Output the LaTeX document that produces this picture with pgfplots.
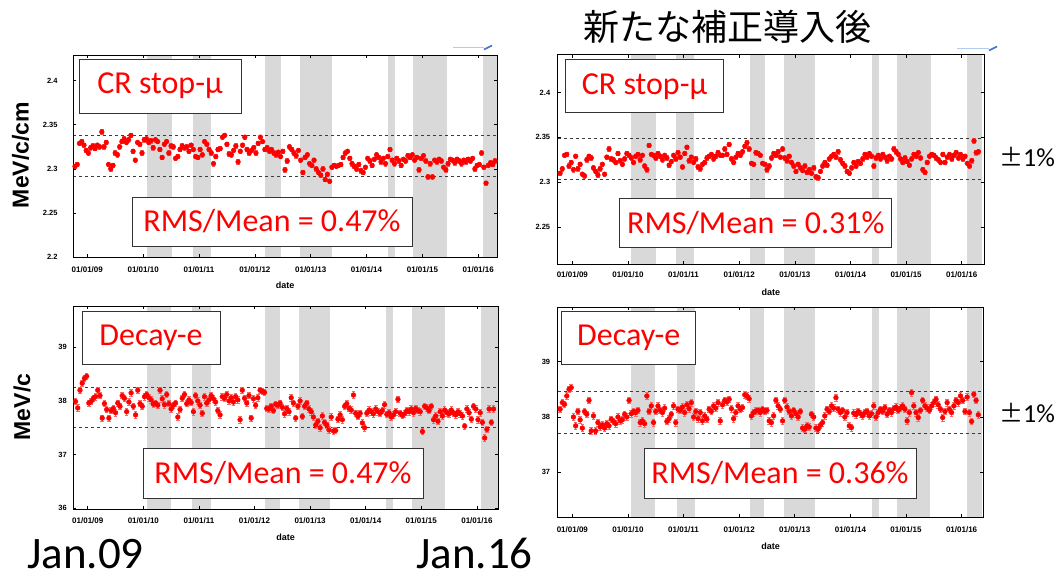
\documentclass[border=0pt]{standalone}
\usepackage{pgfplots}
\pgfplotsset{compat=1.18}
\usepackage{pgfplotstable}
\usepackage{fontspec}
\setmainfont{Liberation Sans}
\newfontfamily\calibri{Carlito}
\newfontfamily\cjk{Noto Sans CJK JP}

\definecolor{band}{RGB}{217,217,217}
\definecolor{ptred}{RGB}{255,0,0}
\definecolor{errred}{RGB}{246,105,105}
\definecolor{dashc}{RGB}{60,60,60}
\definecolor{lblue}{RGB}{175,205,238}
\definecolor{dblue}{RGB}{70,120,200}

\tikzset{
  redbox/.style={draw=black!80, line width=0.8pt, fill=white, text=ptred, inner sep=0pt, font=\calibri\fontsize{32}{38}\selectfont},
  dline/.style={dashc, line width=0.7pt, dash pattern=on 3pt off 3pt},
}
\pgfplotsset{
  panel/.style={
    scale only axis, axis on top, anchor=south west,
    tick align=inside, tick pos=both,
    major tick length=3pt,
    axis line style={line width=0.8pt, black},
    every tick/.style={black, line width=0.6pt},
    xtick={2009,2010,2011,2012,2013,2014,2015,2016},
    xticklabels={01/01/09,01/01/10,01/01/11,01/01/12,01/01/13,01/01/14,01/01/15,01/01/16},
    xticklabel style={font=\bfseries\fontsize{8}{9}\selectfont, anchor=center},
    yticklabel style={font=\bfseries\fontsize{7.5}{9}\selectfont, anchor=east},
    /pgf/number format/assume math mode=true,
    xlabel={date},
    xlabel style={font=\bfseries\fontsize{9}{10}\selectfont, at={(axis description cs:0.5,0)}, anchor=center},
  },
  pts/.style={only marks, mark=*, mark size=2.4pt, color=ptred,
    error bars/.cd, y dir=both, y fixed=#1,
    error bar style={line width=0.7pt, errred},
    error mark options={rotate=90, mark size=1.8pt, line width=0.7pt, errred}},
}

\pgfplotstableread{
x y
2008.78 2.303
2008.82 2.305
2008.86 2.329
2008.90 2.331
2008.94 2.327
2008.98 2.321
2009.02 2.318
2009.06 2.324
2009.10 2.326
2009.14 2.323
2009.18 2.327
2009.22 2.325
2009.26 2.342
2009.30 2.325
2009.34 2.330
2009.38 2.305
2009.42 2.300
2009.46 2.304
2009.50 2.318
2009.54 2.316
2009.58 2.325
2009.62 2.331
2009.66 2.334
2009.70 2.330
2009.74 2.333
2009.78 2.338
2009.82 2.320
2009.86 2.310
2009.90 2.330
2009.94 2.328
2009.98 2.318
2010.02 2.333
2010.06 2.334
2010.10 2.330
2010.14 2.332
2010.18 2.324
2010.22 2.333
2010.26 2.331
2010.30 2.322
2010.34 2.313
2010.38 2.328
2010.42 2.331
2010.46 2.318
2010.50 2.326
2010.54 2.325
2010.58 2.312
2010.62 2.314
2010.66 2.322
2010.70 2.326
2010.74 2.324
2010.78 2.325
2010.82 2.320
2010.86 2.327
2010.90 2.322
2010.94 2.314
2010.98 2.313
2011.02 2.322
2011.06 2.316
2011.10 2.331
2011.14 2.328
2011.18 2.322
2011.22 2.318
2011.26 2.306
2011.30 2.314
2011.34 2.322
2011.38 2.323
2011.42 2.336
2011.46 2.338
2011.50 2.328
2011.54 2.317
2011.58 2.316
2011.62 2.321
2011.66 2.326
2011.70 2.308
2011.74 2.320
2011.78 2.327
2011.82 2.336
2011.86 2.322
2011.90 2.318
2011.94 2.321
2011.98 2.324
2012.02 2.318
2012.06 2.329
2012.10 2.336
2012.14 2.331
2012.18 2.322
2012.22 2.324
2012.26 2.320
2012.30 2.322
2012.34 2.318
2012.38 2.316
2012.42 2.319
2012.46 2.314
2012.50 2.320
2012.54 2.299
2012.58 2.309
2012.62 2.325
2012.66 2.322
2012.70 2.318
2012.74 2.315
2012.78 2.321
2012.82 2.310
2012.86 2.296
2012.90 2.313
2012.94 2.316
2012.98 2.306
2013.02 2.304
2013.06 2.310
2013.10 2.300
2013.14 2.296
2013.18 2.293
2013.22 2.300
2013.26 2.288
2013.30 2.294
2013.34 2.286
2013.38 2.302
2013.42 2.304
2013.46 2.303
2013.50 2.304
2013.54 2.305
2013.58 2.313
2013.62 2.318
2013.66 2.320
2013.70 2.312
2013.74 2.306
2013.78 2.303
2013.82 2.300
2013.86 2.305
2013.90 2.298
2013.94 2.296
2013.98 2.302
2014.02 2.312
2014.06 2.309
2014.10 2.304
2014.14 2.311
2014.18 2.316
2014.22 2.313
2014.26 2.308
2014.30 2.312
2014.34 2.306
2014.38 2.314
2014.42 2.322
2014.46 2.310
2014.50 2.306
2014.54 2.312
2014.58 2.309
2014.62 2.304
2014.66 2.311
2014.70 2.309
2014.74 2.315
2014.78 2.313
2014.82 2.316
2014.86 2.310
2014.90 2.313
2014.94 2.299
2014.98 2.312
2015.02 2.315
2015.06 2.309
2015.10 2.291
2015.14 2.306
2015.18 2.291
2015.22 2.310
2015.26 2.308
2015.30 2.311
2015.34 2.309
2015.38 2.302
2015.42 2.299
2015.46 2.306
2015.50 2.311
2015.54 2.310
2015.58 2.307
2015.62 2.311
2015.66 2.309
2015.70 2.306
2015.74 2.310
2015.78 2.308
2015.82 2.311
2015.86 2.309
2015.90 2.312
2015.94 2.300
2015.98 2.304
2016.02 2.305
2016.06 2.318
2016.10 2.302
2016.14 2.284
2016.18 2.304
2016.22 2.307
2016.26 2.305
2016.30 2.309
}\tA

\pgfplotstableread{
x y
2008.78 2.310
2008.82 2.315
2008.86 2.330
2008.90 2.331
2008.94 2.318
2008.98 2.322
2009.02 2.314
2009.06 2.329
2009.10 2.315
2009.14 2.320
2009.18 2.309
2009.22 2.307
2009.26 2.325
2009.30 2.329
2009.34 2.327
2009.38 2.316
2009.42 2.312
2009.46 2.308
2009.50 2.315
2009.54 2.320
2009.58 2.309
2009.62 2.328
2009.66 2.337
2009.70 2.326
2009.74 2.325
2009.78 2.322
2009.82 2.332
2009.86 2.324
2009.90 2.320
2009.94 2.326
2009.98 2.332
2010.02 2.330
2010.06 2.327
2010.10 2.322
2010.14 2.329
2010.18 2.331
2010.22 2.325
2010.26 2.330
2010.30 2.318
2010.34 2.314
2010.38 2.341
2010.42 2.331
2010.46 2.330
2010.50 2.327
2010.54 2.332
2010.58 2.329
2010.62 2.325
2010.66 2.330
2010.70 2.327
2010.74 2.319
2010.78 2.323
2010.82 2.330
2010.86 2.326
2010.90 2.333
2010.94 2.328
2010.98 2.317
2011.02 2.332
2011.06 2.339
2011.10 2.324
2011.14 2.328
2011.18 2.322
2011.22 2.326
2011.26 2.317
2011.30 2.315
2011.34 2.320
2011.38 2.322
2011.42 2.327
2011.46 2.329
2011.50 2.331
2011.54 2.326
2011.58 2.329
2011.62 2.333
2011.66 2.330
2011.70 2.330
2011.74 2.337
2011.78 2.331
2011.82 2.342
2011.86 2.326
2011.90 2.322
2011.94 2.328
2011.98 2.332
2012.02 2.330
2012.06 2.334
2012.10 2.340
2012.14 2.344
2012.18 2.337
2012.22 2.321
2012.26 2.320
2012.30 2.333
2012.34 2.332
2012.38 2.330
2012.42 2.321
2012.46 2.320
2012.50 2.314
2012.54 2.318
2012.58 2.327
2012.62 2.332
2012.66 2.330
2012.70 2.334
2012.74 2.328
2012.78 2.337
2012.82 2.327
2012.86 2.324
2012.90 2.329
2012.94 2.322
2012.98 2.318
2013.02 2.312
2013.06 2.320
2013.10 2.316
2013.14 2.313
2013.18 2.318
2013.22 2.311
2013.26 2.314
2013.30 2.310
2013.34 2.316
2013.38 2.306
2013.42 2.305
2013.46 2.312
2013.50 2.318
2013.54 2.322
2013.58 2.319
2013.62 2.326
2013.66 2.329
2013.70 2.331
2013.74 2.328
2013.78 2.334
2013.82 2.325
2013.86 2.321
2013.90 2.318
2013.94 2.312
2013.98 2.310
2014.02 2.316
2014.06 2.322
2014.10 2.318
2014.14 2.323
2014.18 2.321
2014.22 2.326
2014.26 2.331
2014.30 2.328
2014.34 2.332
2014.38 2.329
2014.42 2.318
2014.46 2.327
2014.50 2.330
2014.54 2.326
2014.58 2.331
2014.62 2.328
2014.66 2.324
2014.70 2.329
2014.74 2.326
2014.78 2.337
2014.82 2.334
2014.86 2.331
2014.90 2.326
2014.94 2.322
2014.98 2.327
2015.02 2.323
2015.06 2.319
2015.10 2.326
2015.14 2.331
2015.18 2.329
2015.22 2.333
2015.26 2.327
2015.30 2.314
2015.34 2.311
2015.38 2.322
2015.42 2.329
2015.46 2.331
2015.50 2.330
2015.54 2.327
2015.58 2.325
2015.62 2.322
2015.66 2.331
2015.70 2.322
2015.74 2.328
2015.78 2.331
2015.82 2.326
2015.86 2.330
2015.90 2.333
2015.94 2.327
2015.98 2.331
2016.02 2.326
2016.06 2.329
2016.10 2.321
2016.14 2.318
2016.18 2.324
2016.22 2.346
2016.26 2.333
2016.30 2.334
}\tB

\pgfplotstableread{
x y
2008.78 37.99
2008.82 37.87
2008.86 38.20
2008.90 38.33
2008.94 38.42
2008.98 38.46
2009.02 37.96
2009.06 37.99
2009.10 38.05
2009.14 38.08
2009.18 38.20
2009.22 38.10
2009.26 37.68
2009.30 37.95
2009.34 37.84
2009.38 37.68
2009.42 37.82
2009.46 37.86
2009.50 37.78
2009.54 37.96
2009.58 37.90
2009.62 38.10
2009.66 38.05
2009.70 37.80
2009.74 37.98
2009.78 38.15
2009.82 37.90
2009.86 37.74
2009.90 38.20
2009.94 37.95
2009.98 37.90
2010.02 38.08
2010.06 38.12
2010.10 38.06
2010.14 38.02
2010.18 37.94
2010.22 37.96
2010.26 37.92
2010.30 38.20
2010.34 38.04
2010.38 37.93
2010.42 38.12
2010.46 37.95
2010.50 37.85
2010.54 37.92
2010.58 37.96
2010.62 37.70
2010.66 37.84
2010.70 38.05
2010.74 38.12
2010.78 37.95
2010.82 38.02
2010.86 37.97
2010.90 37.80
2010.94 38.10
2010.98 38.00
2011.02 37.92
2011.06 37.77
2011.10 38.08
2011.14 37.96
2011.18 38.02
2011.22 38.10
2011.26 38.04
2011.30 37.98
2011.34 37.82
2011.38 37.74
2011.42 38.08
2011.46 38.05
2011.50 38.12
2011.54 38.00
2011.58 38.06
2011.62 37.98
2011.66 38.08
2011.70 38.02
2011.74 37.65
2011.78 38.20
2011.82 38.05
2011.86 37.96
2011.90 38.10
2011.94 37.68
2011.98 38.04
2012.02 37.92
2012.06 38.06
2012.10 38.20
2012.14 38.18
2012.18 38.16
2012.22 37.86
2012.26 37.85
2012.30 37.90
2012.34 37.82
2012.38 37.94
2012.42 37.92
2012.46 37.96
2012.50 37.88
2012.54 37.76
2012.58 37.86
2012.62 37.80
2012.66 38.06
2012.70 37.96
2012.74 37.68
2012.78 37.90
2012.82 38.00
2012.86 37.71
2012.90 37.90
2012.94 37.96
2012.98 37.85
2013.02 37.80
2013.06 37.70
2013.10 37.55
2013.14 37.62
2013.18 37.50
2013.22 37.72
2013.26 37.60
2013.30 37.55
2013.34 37.46
2013.38 37.70
2013.42 37.44
2013.46 37.45
2013.50 37.66
2013.54 37.74
2013.58 37.65
2013.62 37.90
2013.66 37.95
2013.70 37.86
2013.74 37.83
2013.78 38.11
2013.82 37.77
2013.86 37.71
2013.90 37.77
2013.94 37.59
2013.98 37.50
2014.02 37.77
2014.06 37.83
2014.10 37.80
2014.14 37.76
2014.18 37.85
2014.22 37.80
2014.26 37.77
2014.30 37.82
2014.34 37.93
2014.38 37.75
2014.42 37.78
2014.46 37.70
2014.50 37.74
2014.54 37.80
2014.58 38.03
2014.62 37.77
2014.66 37.73
2014.70 37.76
2014.74 37.82
2014.78 37.80
2014.82 37.85
2014.86 37.78
2014.90 37.86
2014.94 37.82
2014.98 37.80
2015.02 37.43
2015.06 37.90
2015.10 37.87
2015.14 37.82
2015.18 37.90
2015.22 37.65
2015.26 37.72
2015.30 37.62
2015.34 37.80
2015.38 37.72
2015.42 37.83
2015.46 37.78
2015.50 37.76
2015.54 37.83
2015.58 37.77
2015.62 37.74
2015.66 37.80
2015.70 37.76
2015.74 37.72
2015.78 37.53
2015.82 37.85
2015.86 37.78
2015.90 37.66
2015.94 37.90
2015.98 37.85
2016.02 37.65
2016.06 37.78
2016.10 37.60
2016.14 37.31
2016.18 37.47
2016.22 37.85
2016.26 37.60
2016.30 37.85
}\tC

\pgfplotstableread{
x y
2008.78 38.14
2008.82 38.26
2008.86 38.23
2008.90 38.38
2008.94 38.50
2008.98 38.53
2009.02 38.00
2009.06 37.84
2009.10 38.10
2009.14 37.95
2009.18 37.80
2009.22 38.10
2009.26 38.05
2009.30 38.30
2009.34 37.75
2009.38 38.02
2009.42 37.75
2009.46 37.90
2009.50 37.82
2009.54 37.86
2009.58 37.80
2009.62 37.88
2009.66 37.84
2009.70 37.96
2009.74 37.92
2009.78 37.88
2009.82 38.00
2009.86 37.93
2009.90 37.95
2009.94 38.05
2009.98 38.00
2010.02 38.30
2010.06 38.06
2010.10 38.10
2010.14 38.08
2010.18 38.12
2010.22 37.90
2010.26 37.93
2010.30 37.88
2010.34 38.38
2010.38 38.10
2010.42 38.20
2010.46 37.90
2010.50 38.10
2010.54 38.20
2010.58 38.12
2010.62 38.08
2010.66 38.16
2010.70 37.92
2010.74 37.97
2010.78 38.05
2010.82 38.20
2010.86 37.90
2010.90 38.14
2010.94 38.12
2010.98 38.18
2011.02 38.08
2011.06 38.22
2011.10 38.15
2011.14 38.26
2011.18 38.00
2011.22 38.10
2011.26 37.97
2011.30 38.08
2011.34 37.93
2011.38 38.02
2011.42 37.96
2011.46 38.14
2011.50 38.10
2011.54 38.20
2011.58 38.16
2011.62 38.26
2011.66 37.93
2011.70 38.22
2011.74 38.30
2011.78 38.27
2011.82 38.32
2011.86 38.15
2011.90 37.97
2011.94 38.08
2011.98 38.20
2012.02 38.14
2012.06 38.17
2012.10 38.40
2012.14 38.38
2012.18 38.33
2012.22 38.02
2012.26 38.08
2012.30 38.11
2012.34 38.12
2012.38 38.08
2012.42 38.14
2012.46 38.10
2012.50 38.12
2012.54 37.93
2012.58 37.90
2012.62 38.02
2012.66 38.30
2012.70 38.20
2012.74 38.14
2012.78 37.93
2012.82 38.30
2012.86 38.18
2012.90 38.10
2012.94 38.02
2012.98 38.12
2013.02 38.06
2013.06 38.00
2013.10 38.10
2013.14 37.80
2013.18 37.78
2013.22 37.84
2013.26 37.82
2013.30 38.05
2013.34 38.00
2013.38 37.80
2013.42 37.78
2013.46 37.85
2013.50 37.90
2013.54 38.02
2013.58 38.14
2013.62 38.10
2013.66 38.20
2013.70 38.16
2013.74 38.35
2013.78 38.14
2013.82 38.08
2013.86 38.12
2013.90 38.00
2013.94 38.08
2013.98 37.84
2014.02 37.81
2014.06 38.07
2014.10 38.04
2014.14 38.10
2014.18 38.06
2014.22 38.02
2014.26 38.08
2014.30 38.10
2014.34 38.02
2014.38 38.06
2014.42 38.20
2014.46 38.00
2014.50 38.08
2014.54 38.14
2014.58 38.10
2014.62 38.17
2014.66 38.05
2014.70 38.12
2014.74 38.08
2014.78 38.15
2014.82 38.18
2014.86 38.12
2014.90 38.16
2014.94 38.20
2014.98 38.14
2015.02 37.93
2015.06 38.08
2015.10 38.44
2015.14 38.20
2015.18 38.08
2015.22 37.99
2015.26 38.12
2015.30 38.30
2015.34 38.20
2015.38 38.16
2015.42 38.12
2015.46 38.20
2015.50 38.26
2015.54 38.32
2015.58 38.22
2015.62 38.14
2015.66 37.99
2015.70 38.10
2015.74 38.26
2015.78 38.14
2015.82 38.08
2015.86 38.20
2015.90 38.30
2015.94 38.26
2015.98 38.38
2016.02 38.30
2016.06 38.10
2016.10 38.36
2016.14 38.08
2016.18 37.92
2016.22 38.41
2016.26 38.30
2016.30 38.04
}\tD

\begin{document}
\begin{tikzpicture}[x=1pt,y=1pt]
\useasboundingbox (0,0) rectangle (1058,580);

% ---------- top left ----------
\begin{axis}[panel, at={(73pt,322.7pt)}, width=424pt, height=202.3pt,
  xmin=2008.744, xmax=2016.336, ymin=2.2, ymax=2.429,
  ytick={2.2,2.25,2.3,2.35,2.4},
  xticklabel style={yshift=-12.7pt}, xlabel style={yshift=-28.4pt},
  yticklabel style={xshift=-12pt}]
\fill[band] (axis cs:2010.07,2.2) rectangle (axis cs:2010.52,2.429);
\fill[band] (axis cs:2010.89,2.2) rectangle (axis cs:2011.22,2.429);
\fill[band] (axis cs:2012.19,2.2) rectangle (axis cs:2012.46,2.429);
\fill[band] (axis cs:2012.81,2.2) rectangle (axis cs:2013.38,2.429);
\fill[band] (axis cs:2014.38,2.2) rectangle (axis cs:2014.51,2.429);
\fill[band] (axis cs:2014.84,2.2) rectangle (axis cs:2015.44,2.429);
\fill[band] (axis cs:2016.09,2.2) rectangle (axis cs:2016.34,2.429);
\addplot[dline] coordinates {(2008.744,2.3376) (2016.336,2.3376)};
\addplot[dline] coordinates {(2008.744,2.2912) (2016.336,2.2912)};
\addplot[pts=0.0025] table[x=x,y=y] {\tA};
\end{axis}

% ---------- top right ----------
\begin{axis}[panel, at={(557.7pt,316pt)}, width=426.3pt, height=209.3pt,
  xmin=2008.737, xmax=2016.40, ymin=2.209, ymax=2.442,
  ytick={2.25,2.3,2.35,2.4},
  xticklabel style={yshift=-11pt}, xlabel style={yshift=-28.3pt},
  yticklabel style={xshift=-4pt}]
\fill[band] (axis cs:2010.06,2.209) rectangle (axis cs:2010.50,2.442);
\fill[band] (axis cs:2010.87,2.209) rectangle (axis cs:2011.19,2.442);
\fill[band] (axis cs:2012.19,2.209) rectangle (axis cs:2012.46,2.442);
\fill[band] (axis cs:2012.80,2.209) rectangle (axis cs:2013.37,2.442);
\fill[band] (axis cs:2014.38,2.209) rectangle (axis cs:2014.51,2.442);
\fill[band] (axis cs:2014.84,2.209) rectangle (axis cs:2015.44,2.442);
\fill[band] (axis cs:2016.09,2.209) rectangle (axis cs:2016.36,2.442);
\addplot[dline] coordinates {(2008.737,2.349) (2016.40,2.349)};
\addplot[dline] coordinates {(2008.737,2.303) (2016.40,2.303)};
\addplot[pts=0.0025] table[x=x,y=y] {\tB};
\end{axis}

% ---------- bottom left ----------
\begin{axis}[panel, at={(73.3pt,70.7pt)}, width=424.7pt, height=203.3pt,
  xmin=2008.74, xmax=2016.38, ymin=35.98, ymax=39.77,
  ytick={36,37,38,39},
  xticklabel style={yshift=-11.4pt}, xlabel style={yshift=-28pt},
  yticklabel style={xshift=-3pt}]
\fill[band] (axis cs:2010.07,35.98) rectangle (axis cs:2010.50,39.77);
\fill[band] (axis cs:2010.88,35.98) rectangle (axis cs:2011.21,39.77);
\fill[band] (axis cs:2012.18,35.98) rectangle (axis cs:2012.45,39.77);
\fill[band] (axis cs:2012.80,35.98) rectangle (axis cs:2013.36,39.77);
\fill[band] (axis cs:2014.37,35.98) rectangle (axis cs:2014.49,39.77);
\fill[band] (axis cs:2014.83,35.98) rectangle (axis cs:2015.42,39.77);
\fill[band] (axis cs:2016.08,35.98) rectangle (axis cs:2016.38,39.77);
\addplot[dline] coordinates {(2008.74,38.253) (2016.38,38.253)};
\addplot[dline] coordinates {(2008.74,37.503) (2016.38,37.503)};
\addplot[pts=0.06] table[x=x,y=y] {\tC};
\end{axis}

% ---------- bottom right ----------
\begin{axis}[panel, at={(557.7pt,62.7pt)}, width=425.6pt, height=210pt,
  xmin=2008.737, xmax=2016.39, ymin=36.19, ymax=39.98,
  ytick={37,38,39},
  xticklabel style={yshift=-12pt}, xlabel style={yshift=-29.4pt},
  yticklabel style={xshift=-4pt}]
\fill[band] (axis cs:2010.06,36.19) rectangle (axis cs:2010.49,39.98);
\fill[band] (axis cs:2010.88,36.19) rectangle (axis cs:2011.20,39.98);
\fill[band] (axis cs:2012.19,36.19) rectangle (axis cs:2012.45,39.98);
\fill[band] (axis cs:2012.80,36.19) rectangle (axis cs:2013.37,39.98);
\fill[band] (axis cs:2014.38,36.19) rectangle (axis cs:2014.51,39.98);
\fill[band] (axis cs:2014.84,36.19) rectangle (axis cs:2015.43,39.98);
\fill[band] (axis cs:2016.09,36.19) rectangle (axis cs:2016.36,39.98);
\addplot[dline] coordinates {(2008.737,38.47) (2016.39,38.47)};
\addplot[dline] coordinates {(2008.737,37.71) (2016.39,37.71)};
\addplot[pts=0.06] table[x=x,y=y] {\tD};
\end{axis}

% ---------- text boxes ----------
\node[redbox, minimum width=162pt, minimum height=54pt] at (160,494) {CR stop-μ};
\node[redbox, minimum width=158pt, minimum height=53pt] at (644.5,493.7) {CR stop-μ};
\node[redbox, minimum width=280pt, minimum height=49pt] at (272,358.5) {RMS/Mean = 0.47\%};
\node[redbox, minimum width=272pt, minimum height=49pt] at (755.8,357) {RMS/Mean = 0.31\%};
\node[redbox, minimum width=138pt, minimum height=53pt] at (151,242.5) {Decay-e};
\node[redbox, minimum width=280pt, minimum height=50pt] at (283,107) {RMS/Mean = 0.47\%};
\node[redbox, minimum width=134pt, minimum height=53pt] at (628.7,242.2) {Decay-e};
\node[redbox, minimum width=272pt, minimum height=50pt] at (780,107) {RMS/Mean = 0.36\%};

% ---------- axis titles ----------
\node[rotate=90, font=\bfseries\fontsize{23}{26}\selectfont] at (20.5,425) {MeV/c/cm};
\node[rotate=90, font=\bfseries\fontsize{23}{26}\selectfont] at (22,173) {MeV/c};

% ---------- other texts ----------
\node[font=\cjk\fontsize{36}{42}\selectfont, inner sep=0] at (727.5,553) {新たな補正導入後};
\node[anchor=west, inner sep=0] at (999,423) {{\cjk\fontsize{24}{28}\selectfont ±}{\calibri\fontsize{26}{30}\selectfont 1\%}};
\node[anchor=west, inner sep=0] at (999,167) {{\cjk\fontsize{24}{28}\selectfont ±}{\calibri\fontsize{26}{30}\selectfont 1\%}};
\node[anchor=base west, inner sep=0, font=\calibri\fontsize{45}{52}\selectfont] at (27,11) {Jan.09};
\node[anchor=base west, inner sep=0, font=\calibri\fontsize{45}{52}\selectfont] at (416,11) {Jan.16};

% ---------- small blue marks ----------
\draw[lblue, line width=0.8pt] (453,533) -- (484,533);
\draw[dblue, line width=1.6pt] (484,530.5) -- (492,534.5);
\draw[lblue, line width=0.8pt] (957,532) -- (989,532);
\draw[dblue, line width=1.6pt] (989,529.5) -- (997,533.5);
\end{tikzpicture}
\end{document}
